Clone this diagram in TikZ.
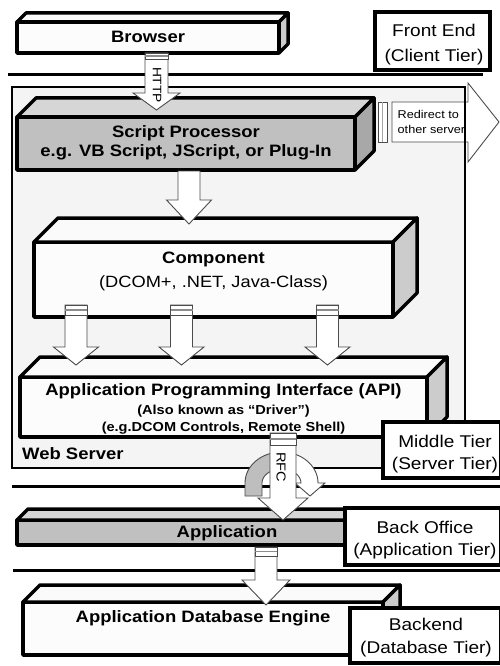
\documentclass[tikz,border=0pt]{standalone}
\usepackage{fontspec}
\setmainfont{Liberation Sans}[FakeStretch=1.12]
\usetikzlibrary{calc}
\definecolor{wsgrey}{HTML}{F4F4F4}
\definecolor{sfront}{HTML}{C0C0C0}
\definecolor{stop}{HTML}{D6D6D6}
\definecolor{sside}{HTML}{A8A8A8}
\definecolor{wfront}{HTML}{FCFCFC}
\definecolor{wtop}{HTML}{FAFAFA}
\definecolor{wside}{HTML}{CCCCCC}
\definecolor{curvegrey}{HTML}{BEBEBE}
\tikzset{
  sepline/.style={line width=3pt},
  boxfront/.style={draw, line width=3.5pt, line join=round, inner sep=0pt, outer sep=0pt},
  boxline/.style={line width=3.5pt, line join=round},
  tierbox/.style={draw, line width=3.5pt, fill=white, inner sep=0pt, outer sep=0pt},
  arrowline/.style={draw=black!70, line width=0.9pt, line join=miter},
  txt/.style={inner sep=0pt, anchor=base},
  btitle/.style={txt, font=\bfseries\fontsize{16.5}{19}\selectfont},
  rtitle/.style={txt, font=\fontsize{16.3}{19}\selectfont},
  bsmall/.style={txt, font=\bfseries\fontsize{13}{15}\selectfont},
  tiertxt/.style={txt, font=\fontsize{17}{20}\selectfont},
}
\newcommand\tdbox[9]{%
  \node[boxfront, fill=#7, minimum width={(#4-#2)*1pt}, minimum height={(#5-#3)*1pt}, anchor=north west] (#1) at (#2,#3) {};
  \draw[boxline, fill=#8] (#1.north west) -- ++(#6,-#6) -- ($(#1.north east)+(#6,-#6)$) -- (#1.north east) -- cycle;
  \draw[boxline, fill=#9] (#1.north east) -- ++(#6,-#6) -- ($(#1.south east)+(#6,-#6)$) -- (#1.south east) -- cycle;
}
% start, end, half shaft, half head, head length
\newcommand\blockdown[5]{%
  \draw[arrowline, fill=white] ($(#1)+(-#3,0)$) -- ($(#2)+(-#3,-#5)$) -- ($(#2)+(-#4,-#5)$) -- (#2) -- ($(#2)+(#4,-#5)$) -- ($(#2)+(#3,-#5)$) -- ($(#1)+(#3,0)$) -- cycle;
}
% coord, half width, height
\newcommand\tailcap[3]{%
  \draw[arrowline, fill=white] ($(#1)+(-#2,0)$) rectangle ($(#1)+(#2,#3)$);
  \draw[black!45, line width=1.6pt] ($(#1)+(-#2,#3*0.5)$) -- ($(#1)+(#2,#3*0.5)$);
}
\begin{document}
\begin{tikzpicture}[x=1pt,y=-1pt]
\useasboundingbox (0,0) rectangle (500,666);
\fill[white] (0,0) rectangle (500,666);

% separators
\coordinate (l1a) at (8,75);   \coordinate (l1b) at (483,75);
\coordinate (l2a) at (12,486); \coordinate (l2b) at (500,486);
\coordinate (l3a) at (13,570); \coordinate (l3b) at (500,570);
\draw[sepline] (l1a) -- (l1b);
\draw[sepline] (l2a) -- (l2b);
\draw[sepline] (l3a) -- (l3b);

% web server area
\node[fill=wsgrey, inner sep=0pt, outer sep=0pt, minimum width=453pt, minimum height=381pt, anchor=north west] (webserver) at (12,87) {};

% redirect arrow
\coordinate (redircap) at (378,102);
\draw[arrowline, fill=white] (redircap) rectangle ++(9,40);
\draw[black!35, line width=1.2pt] ($(redircap)+(4.5,0)$) -- ++(0,40);
\coordinate (redirs) at (392,122);
\coordinate (redire) at (499,122);
\draw[arrowline, fill=white] ($(redirs)+(0,-20)$) -- ($(redire)+(-31,-20)$) -- ($(redire)+(-31,-39)$) -- (redire) -- ($(redire)+(-31,40)$) -- ($(redire)+(-31,20)$) -- ($(redirs)+(0,20)$) -- cycle;
\node[txt, anchor=base west, font=\fontsize{11.3}{15}\selectfont] (redir1) at (397.5,118) {Redirect to};
\node[txt, anchor=base west, font=\fontsize{11.3}{15}\selectfont] (redir2) at (397.5,133) {other server};

\draw[line width=2.6pt] (webserver.north west) rectangle (webserver.south east);
\node[btitle, anchor=base west] (wslabel) at (22,459) {Web Server};

% boxes
\tdbox{browser}{17}{22}{279}{53}{9}{wfront}{wtop}{wside}
\tdbox{script}{17}{117}{355}{170}{19}{sfront}{stop}{sside}
\tdbox{component}{34}{242}{393}{317}{24}{wfront}{wtop}{wside}
\tdbox{api}{20}{377}{427}{437}{20}{wfront}{wtop}{wside}
\tdbox{app}{17}{520}{437}{545}{11}{sfront}{stop}{sside}
\tdbox{db}{23}{602}{383}{655}{17}{wfront}{wtop}{wside}

\node[btitle] (browsertxt) at (148,43) {Browser};
\node[btitle] (scripttxt1) at (186,137) {Script Processor};
\node[btitle] (scripttxt2) at (186,157) {e.g. VB Script, JScript, or Plug-In};
\node[btitle] (comptxt1) at (213.5,263) {Component};
\node[rtitle] (comptxt2) at (213.5,287) {(DCOM+, .NET, Java-Class)};
\node[btitle] (apitxt1) at (223.5,395) {Application Programming Interface (API)};
\node[bsmall] (apitxt2) at (223.5,414) {(Also known as “Driver”)};
\node[bsmall] (apitxt3) at (223.5,431) {(e.g.DCOM Controls, Remote Shell)};
\node[btitle] (apptxt) at (227,537) {Application};
\node[btitle] (dbtxt) at (203,622) {Application Database Engine};

% HTTP arrow
\coordinate (https) at (156.5,53);
\coordinate (httpe) at (156.5,110);
\blockdown{https}{httpe}{11.5}{23.5}{17}
\tailcap{https}{11.5}{6}
\node[inner sep=0pt, rotate=-90, font=\fontsize{12.3}{14}\selectfont] (httptxt) at (157,85) {HTTP};

% script -> component
\coordinate (sc-s) at (189,171);
\coordinate (sc-e) at (189,224);
\blockdown{sc-s}{sc-e}{11}{22.5}{24}

% component -> api
\foreach \xx/\nm in {76/ca1,181.5/ca2,327.5/ca3}{
  \coordinate (\nm-s) at (\xx,305);
  \coordinate (\nm-e) at (\xx,365);
  \blockdown{\nm-s}{\nm-e}{11}{22.5}{18}
  \tailcap{\nm-s}{11}{10}
}

% RFC curved arrow
\coordinate (rfcc) at (281.5,483);
\draw[arrowline, fill=curvegrey] (245,496) -- (245,483) arc[start angle=180, end angle=270, x radius=36.5, y radius=31] -- (281.5,469) arc[start angle=270, end angle=180, x radius=19.5, y radius=14] -- (262,496) -- cycle;
\draw[arrowline, fill=white] (281.5,452) arc[start angle=270, end angle=360, x radius=36.5, y radius=31] -- (325,483) -- (310,496) -- (295,483) -- (301,483) arc[start angle=0, end angle=-90, x radius=19.5, y radius=14] -- cycle;

% RFC straight arrow
\coordinate (rfcs) at (283,433);
\coordinate (rfce) at (283,520);
\blockdown{rfcs}{rfce}{13}{25}{22}
\tailcap{rfcs}{13}{12}
\node[inner sep=0pt, rotate=-90, font=\fontsize{13}{15}\selectfont] (rfctxt) at (281,467) {RFC};

% app -> db
\coordinate (ad-s) at (266,547);
\coordinate (ad-e) at (266,605);
\blockdown{ad-s}{ad-e}{11}{24}{25}
\tailcap{ad-s}{11}{9}

% tier labels
\node[tierbox, minimum width=115pt, minimum height=58pt, anchor=north west] (fronttier) at (375,12) {};
\node[tiertxt] (ft1) at (434,37) {Front End};
\node[tiertxt] (ft2) at (434,62) {(Client Tier)};
\node[tierbox, minimum width=118pt, minimum height=56pt, anchor=north west] (midtier) at (383,422) {};
\node[tiertxt] (mt1) at (445,447) {Middle Tier};
\node[tiertxt] (mt2) at (445,469) {(Server Tier)};
\node[tierbox, minimum width=156pt, minimum height=57pt, anchor=north west] (backtier) at (345,508) {};
\node[tiertxt] (bt1) at (425,533) {Back Office};
\node[tiertxt] (bt2) at (425,555) {(Application Tier)};
\node[tierbox, minimum width=151pt, minimum height=55pt, anchor=north west] (dbtier) at (350,608) {};
\node[tiertxt] (dt1) at (426,630) {Backend};
\node[tiertxt] (dt2) at (426,653) {(Database Tier)};
\end{tikzpicture}
\end{document}
